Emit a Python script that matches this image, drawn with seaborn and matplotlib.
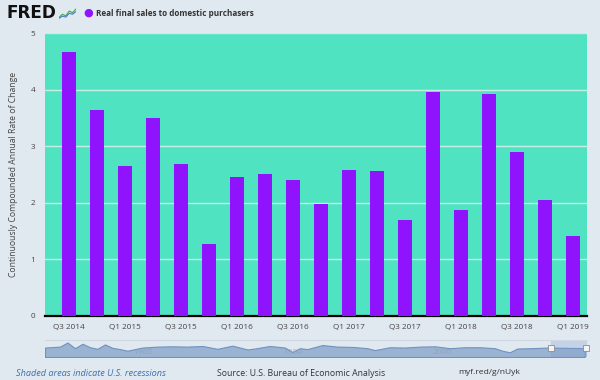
import numpy as np
import pandas as pd
import matplotlib
matplotlib.use("Agg")
import matplotlib.pyplot as plt
import seaborn as sns

# ---- data ----
quarters = ["Q3 2014", "Q4 2014", "Q1 2015", "Q2 2015", "Q3 2015", "Q4 2015",
            "Q1 2016", "Q2 2016", "Q3 2016", "Q4 2016", "Q1 2017", "Q2 2017",
            "Q3 2017", "Q4 2017", "Q1 2018", "Q2 2018", "Q3 2018", "Q4 2018",
            "Q1 2019"]
values = [4.66, 3.64, 2.65, 3.49, 2.68, 1.28, 2.46, 2.51, 2.41, 1.97,
          2.58, 2.57, 1.69, 3.95, 1.88, 3.93, 2.89, 2.05, 1.42]
y_ticks = [0, 1, 2, 3, 4, 5]
series_name = "Real final sales to domestic purchasers"

# navigator overview (rough), years and values
nav_years = [1947, 1949, 1950, 1951, 1952, 1953, 1954, 1955, 1956, 1957, 1958,
             1960, 1962, 1964, 1966, 1968, 1970, 1972, 1974, 1975, 1977, 1979,
             1980, 1981, 1982, 1984, 1986, 1988, 1990, 1991, 1993, 1995, 1997,
             1999, 2001, 2003, 2005, 2007, 2008, 2009, 2010, 2012, 2014, 2016,
             2019]
nav_values = [3.0, 4.5, 11.0, 2.0, 9.0, 3.5, 1.0, 8.0, 2.5, 0.5, -2.0,
              3.0, 4.5, 5.0, 4.5, 5.5, 1.0, 6.0, 0.0, 1.5, 5.5, 3.0,
              -4.0, 2.0, 0.5, 7.0, 4.5, 4.0, 2.0, -1.0, 3.5, 3.0, 4.5,
              5.0, 2.0, 3.5, 3.5, 2.0, -2.0, -4.5, 1.5, 2.0, 3.0, 2.5,
              2.0]

BG = "#e1e9f0"
PLOT_BG = "#50e3c2"
BAR = "#9013fe"
FONT = ["Open Sans", "DejaVu Sans"]

df = pd.DataFrame({"quarter": quarters, "value": values})

sns.set_style("white")
plt.rcParams["font.family"] = FONT

fig = plt.figure(figsize=(6, 3.8), dpi=100, facecolor=BG)
ax = fig.add_axes([45 / 600, 1 - 316 / 380, 542 / 600, 283 / 380])
ax.set_facecolor(PLOT_BG)

sns.barplot(data=df, x="quarter", y="value", color=BAR, width=0.48,
            saturation=1, ax=ax, zorder=3, linewidth=0, edgecolor="none")

ax.set_ylim(0, 5)
ax.set_xlim(-0.85, 18.5)
ax.set_yticks(y_ticks)
ax.set_yticklabels([str(t) for t in y_ticks], fontsize=6.3, color="#444444")
ax.yaxis.grid(True, color="#c6eee3", linewidth=1.0, zorder=1)
ax.set_axisbelow(True)
ax.tick_params(axis="y", length=0, pad=7)

xt = list(range(0, len(quarters), 2))
ax.set_xticks(xt)
ax.set_xticklabels([quarters[i] for i in xt], fontsize=6.3, color="#444444")
ax.tick_params(axis="x", length=4, width=0.8, color="#c0cfe0", pad=2)

for s in ["top", "right", "left"]:
    ax.spines[s].set_visible(False)
ax.spines["bottom"].set_color("black")
ax.spines["bottom"].set_linewidth(1.6)
ax.set_xlabel("")
ylab = ax.set_ylabel("Continuously Compounded Annual Rate of Change",
                     fontsize=6.3, color="#444444", labelpad=9)

# navigator
nav = fig.add_axes([45 / 600, 1 - 357 / 380, 542 / 600, 17 / 380])
nav.set_facecolor(BG)
nav.fill_between(nav_years, nav_values, -12, color="#9bb3d3",
                 linewidth=0.8, edgecolor="#6f92c0", zorder=2)
nav.set_xlim(1947, 2019.3)
nav.set_ylim(-12, 15)
nav.axvspan(2014.5, 2019.3, color="#c3d2e7", zorder=0)
nav.axvspan(2014.5, 2019.3, ymax=0.55, color="#7f9fca", zorder=3, alpha=0.35)
for yr in [1960, 1980, 2000]:
    nav.text(yr, -5, str(yr), fontsize=6, color="#8e9db0", ha="center",
             va="center", alpha=0.7, zorder=4)
for xh in [2014.5, 2019.1]:
    nav.plot([xh], [3], marker="s", markersize=5, color="#f4f4f4",
             markeredgecolor="#8c8c8c", markeredgewidth=0.6, clip_on=False,
             zorder=5)
nav.set_xticks([])
nav.set_yticks([])
for s in ["left", "right", "bottom"]:
    nav.spines[s].set_visible(False)
nav.spines["top"].set_color("#cfd8e3")

# header
t_fred = fig.text(7 / 600, 1 - 13 / 380, "FRED", fontsize=14, fontweight="black",
                  family=["DejaVu Sans"], color="#111111", va="center", ha="left")
fig.text(88 / 600, 1 - 13 / 380, "\u25CF", fontsize=8, color=BAR,
         va="center", ha="center", family=["DejaVu Sans"])
t_title = fig.text(96 / 600, 1 - 13 / 380, series_name, fontsize=7,
                   fontweight="bold", color="#333333", va="center", ha="left")

# small logo icon (decoration)
icon = fig.add_axes([59 / 600, 1 - 19 / 380, 17 / 600, 11 / 380])
icon.set_facecolor("#d6dde4")
icon.plot([0, 1, 2, 3, 4, 5], [0.5, 1.5, 1.0, 2.5, 2.0, 3.2], color="#3aa655", lw=0.8)
icon.plot([0, 1, 2, 3, 4, 5], [0.2, 0.9, 0.6, 1.8, 1.5, 2.4], color="#4a7fc1", lw=0.8)
icon.set_xlim(0, 5)
icon.set_ylim(0, 3.5)
icon.axis("off")

# footer
fy = 1 - 373 / 380
t1 = fig.text(16 / 600, fy, "Shaded areas indicate U.S. recessions",
              fontsize=6.5, style="italic", color="#3f6fae", va="center")
t2 = fig.text(217 / 600, fy, "Source: U.S. Bureau of Economic Analysis",
              fontsize=6.5, color="#333333", va="center")
t3 = fig.text(458 / 600, fy, "myf.red/g/nUyk", fontsize=6.5,
              color="#333333", va="center")

# fit text widths to measured reference widths (px)
fig.canvas.draw()
renderer = fig.canvas.get_renderer()


def fit(t, target, horizontal=True):
    bb = t.get_window_extent(renderer)
    cur = bb.width if horizontal else bb.height
    t.set_fontsize(t.get_fontsize() * target / cur)


fit(t_fred, 50)
fit(t_title, 157)
fit(t1, 151)
fit(t2, 167)
fit(t3, 61)
fit(ylab, 204, horizontal=False)
for lab in ax.get_xticklabels():
    if lab.get_text() == "Q3 2014":
        bb = lab.get_window_extent(renderer)
        fs = lab.get_fontsize() * 31.5 / bb.width
        break
for lab in ax.get_xticklabels():
    lab.set_fontsize(fs)
for lab in ax.get_yticklabels():
    lab.set_fontsize(fs)

fig.savefig("out.png", dpi=100, facecolor=BG)
